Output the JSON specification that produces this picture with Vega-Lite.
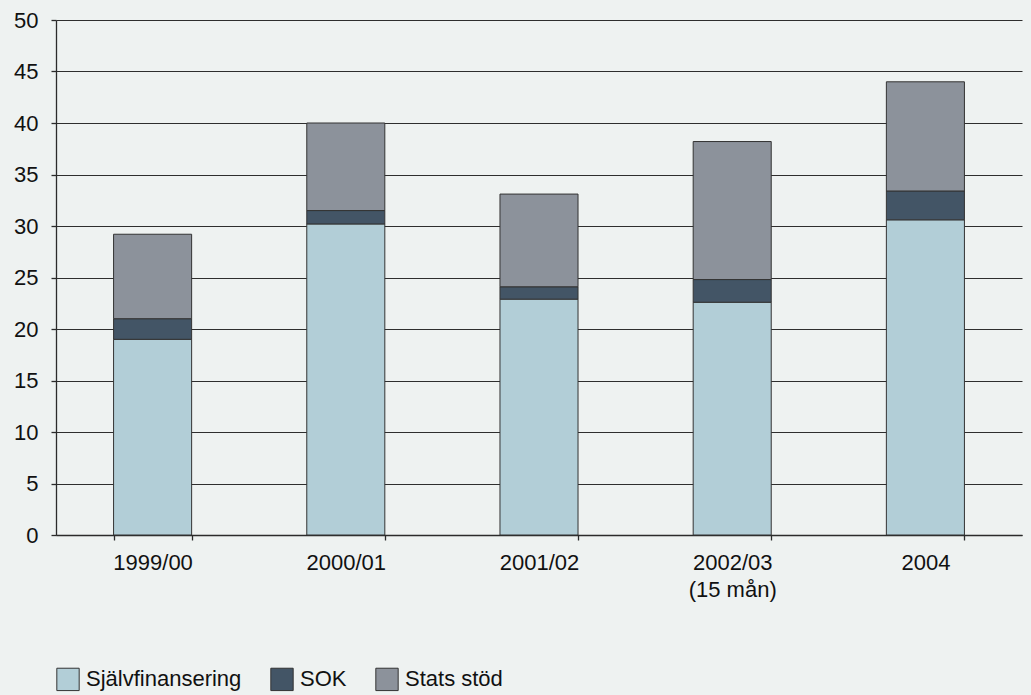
{
  "$schema": "https://vega.github.io/schema/vega-lite/v6.json",
  "width": 966,
  "height": 515,
  "autosize": {"type": "none"},
  "padding": {"left": 56, "top": 20, "right": 9, "bottom": 160},
  "background": "#eef2f1",
  "config": {
    "view": {"stroke": null},
    "font": "Liberation Sans",
    "axis": {"labelFont": "Liberation Sans", "labelFontSize": 22, "labelColor": "#111111"},
    "legend": {"labelFont": "Liberation Sans", "labelFontSize": 22, "labelColor": "#111111"}
  },
  "data": {
    "values": [
      {"period": "1999/00", "source": "Självfinansering", "order": 1, "value": 19.0},
      {"period": "1999/00", "source": "SOK", "order": 2, "value": 2.0},
      {"period": "1999/00", "source": "Stats stöd", "order": 3, "value": 8.2},
      {"period": "2000/01", "source": "Självfinansering", "order": 1, "value": 30.2},
      {"period": "2000/01", "source": "SOK", "order": 2, "value": 1.3},
      {"period": "2000/01", "source": "Stats stöd", "order": 3, "value": 8.5},
      {"period": "2001/02", "source": "Självfinansering", "order": 1, "value": 22.9},
      {"period": "2001/02", "source": "SOK", "order": 2, "value": 1.2},
      {"period": "2001/02", "source": "Stats stöd", "order": 3, "value": 9.0},
      {"period": "2002/03 (15 mån)", "source": "Självfinansering", "order": 1, "value": 22.6},
      {"period": "2002/03 (15 mån)", "source": "SOK", "order": 2, "value": 2.2},
      {"period": "2002/03 (15 mån)", "source": "Stats stöd", "order": 3, "value": 13.4},
      {"period": "2004", "source": "Självfinansering", "order": 1, "value": 30.6},
      {"period": "2004", "source": "SOK", "order": 2, "value": 2.8},
      {"period": "2004", "source": "Stats stöd", "order": 3, "value": 10.6}
    ]
  },
  "mark": {"type": "bar", "stroke": "#333333", "strokeWidth": 1},
  "encoding": {
    "x": {
      "field": "period",
      "type": "nominal",
      "sort": null,
      "scale": {"paddingInner": 0.596, "paddingOuter": 0.298},
      "axis": {
        "title": null,
        "labelAngle": 0,
        "domainColor": "#2b2b2b",
        "domainWidth": 1.3,
        "tickColor": "#2b2b2b",
        "tickWidth": 1.3,
        "tickSize": 5,
        "tickBand": "extent",
        "labelPadding": 12,
        "labelLineHeight": 27,
        "labelExpr": "datum.value == '2002/03 (15 mån)' ? ['2002/03', '(15 mån)'] : datum.label",
        "grid": false
      }
    },
    "y": {
      "field": "value",
      "type": "quantitative",
      "stack": "zero",
      "scale": {"domain": [0, 50], "nice": false},
      "axis": {
        "title": null,
        "values": [0, 5, 10, 15, 20, 25, 30, 35, 40, 45, 50],
        "domainColor": "#2b2b2b",
        "domainWidth": 1.3,
        "tickColor": "#2b2b2b",
        "tickWidth": 1.3,
        "tickSize": 5,
        "labelPadding": 13,
        "grid": true,
        "gridColor": "#2e2e2e",
        "gridWidth": 1.2
      }
    },
    "color": {
      "field": "source",
      "type": "nominal",
      "sort": ["Självfinansering", "SOK", "Stats stöd"],
      "scale": {"domain": ["Självfinansering", "SOK", "Stats stöd"], "range": ["#b2ced7", "#435566", "#8c929b"]},
      "legend": {
        "title": null,
        "orient": "none",
        "legendX": 0,
        "legendY": 647,
        "direction": "horizontal",
        "symbolType": "square",
        "symbolSize": 500,
        "symbolStrokeColor": "#333333",
        "symbolStrokeWidth": 1,
        "symbolOpacity": 1,
        "labelOffset": 6,
        "columnPadding": 26
      }
    },
    "order": {"field": "order", "type": "quantitative"}
  }
}
